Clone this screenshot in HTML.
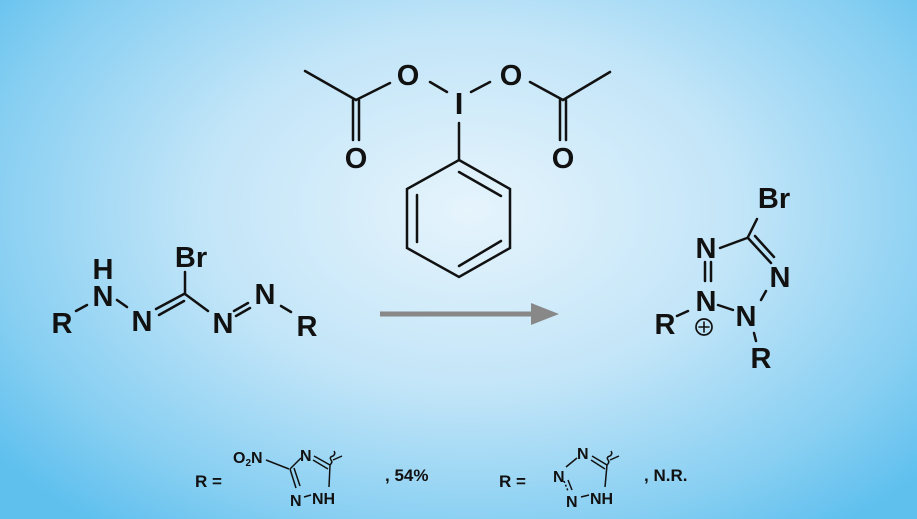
<!DOCTYPE html>
<html><head><style>
html,body{margin:0;padding:0;}
body{width:917px;height:519px;overflow:hidden;background:radial-gradient(ellipse 600px 400px at 470px 210px,#e6f4fc 0%,#c2e5f8 45%,#88cff2 80%,#5fc0ee 100%);}
svg{position:absolute;left:0;top:0}
text{font-family:"Liberation Sans",Arial,sans-serif;font-weight:bold;fill:#111}
</style></head><body>
<svg width="917" height="519" viewBox="0 0 917 519">
<g stroke="#111" stroke-width="2.5" fill="none" stroke-linecap="round">
<line x1="305" y1="71" x2="356" y2="100"/>
<line x1="356" y1="100" x2="390" y2="83"/>
<line x1="430" y1="82" x2="447" y2="92"/>
<line x1="471" y1="92" x2="490" y2="82"/>
<line x1="530" y1="82" x2="563" y2="100"/>
<line x1="563" y1="100" x2="610" y2="72"/>
<line x1="353" y1="100" x2="353" y2="140"/><line x1="359" y1="100" x2="359" y2="140"/>
<line x1="560" y1="100" x2="560" y2="140"/><line x1="566" y1="100" x2="566" y2="140"/>
<line x1="459" y1="123" x2="459" y2="160"/>
<polygon points="459,160 510,189 510,248 459,277 407,248 407,189"/>
<line x1="459" y1="172" x2="501" y2="196"/>
<line x1="501" y1="241" x2="459" y2="266"/>
<line x1="417" y1="195" x2="417" y2="242"/>
<line x1="76" y1="311" x2="87" y2="305"/>
<line x1="117" y1="300" x2="127" y2="307"/>
<line x1="156" y1="309" x2="184" y2="294"/><line x1="159" y1="315" x2="184" y2="301"/>
<line x1="185" y1="294" x2="185" y2="272"/>
<line x1="185" y1="294" x2="208" y2="311"/>
<line x1="234" y1="311" x2="248" y2="303"/><line x1="236" y1="316" x2="250" y2="308"/>
<line x1="281" y1="306" x2="291" y2="312"/>
<line x1="757" y1="219" x2="748" y2="237"/>
<line x1="720" y1="248" x2="747" y2="238"/>
<line x1="748" y1="238" x2="771" y2="263"/><line x1="755" y1="236" x2="774" y2="257"/>
<line x1="705" y1="262" x2="705" y2="281"/><line x1="711" y1="262" x2="711" y2="281"/>
<line x1="766" y1="291" x2="761" y2="300"/>
<line x1="718" y1="305" x2="733" y2="310"/>
<line x1="677" y1="316" x2="688" y2="311"/>
<line x1="754" y1="333" x2="756" y2="341"/>
<circle cx="704" cy="327" r="8" stroke-width="1.7"/>
<line x1="699" y1="327" x2="709" y2="327" stroke-width="1.6"/><line x1="704" y1="322" x2="704" y2="332" stroke-width="1.6"/>
</g>
<line x1="380" y1="314" x2="535" y2="314" stroke="#888" stroke-width="5"/>
<polygon points="531,303 559,314 531,325" fill="#888"/>
<g font-size="29" text-anchor="middle">
<text x="408" y="85">O</text>
<text x="459" y="114" font-size="31">I</text>
<text x="511" y="85">O</text>
<text x="356" y="168">O</text>
<text x="563" y="168">O</text>
<text x="62" y="333">R</text>
<text x="103" y="279">H</text>
<text x="103" y="306">N</text>
<text x="142" y="331">N</text>
<text x="191" y="267">Br</text>
<text x="223" y="333">N</text>
<text x="265" y="304">N</text>
<text x="307" y="336">R</text>
<text x="774" y="208">Br</text>
<text x="706" y="258">N</text>
<text x="780" y="287">N</text>
<text x="706" y="311">N</text>
<text x="746" y="326">N</text>
<text x="665" y="334">R</text>
<text x="761" y="368">R</text>
</g>
<g stroke="#111" stroke-width="1.5" fill="none">
<line x1="266" y1="460" x2="289" y2="469"/>
<line x1="290" y1="469" x2="301" y2="458"/>
<line x1="314" y1="456" x2="330" y2="465"/><line x1="313" y1="460" x2="328" y2="469"/>
<line x1="330" y1="465" x2="329" y2="487"/>
<line x1="290" y1="469" x2="296" y2="488"/><line x1="294" y1="468" x2="300" y2="486"/>
<line x1="304" y1="497" x2="311" y2="495"/>
<path d="M330,465 q3,-3 1,-5 q-2,-3 2,-4 q3,-2 1,-5"/><line x1="333" y1="460" x2="342" y2="456"/>
<line x1="566" y1="467" x2="577" y2="458"/>
<line x1="592" y1="456" x2="607" y2="465"/><line x1="591" y1="460" x2="605" y2="469"/>
<line x1="607" y1="465" x2="605" y2="487"/>
<line x1="564" y1="481" x2="568" y2="491" stroke-dasharray="2 2"/><line x1="568" y1="480" x2="572" y2="490" />
<line x1="581" y1="497" x2="589" y2="495"/>
<path d="M607,465 q3,-3 1,-5 q-2,-3 2,-4 q3,-2 1,-5"/><line x1="610" y1="460" x2="619" y2="456"/>
</g>
<g font-size="17">
<text x="195" y="487">R =</text>
<text x="233" y="463" font-size="16">O<tspan font-size="10" dy="3">2</tspan><tspan dy="-3">N</tspan></text>
<text x="300" y="461" font-size="16">N</text>
<text x="290" y="506" font-size="16">N</text>
<text x="312" y="504" font-size="16">NH</text>
<text x="385" y="481">, 54%</text>
<text x="499" y="487">R =</text>
<text x="577" y="459" font-size="16">N</text>
<text x="553" y="482" font-size="16">N</text>
<text x="566" y="507" font-size="16">N</text>
<text x="590" y="504" font-size="16">NH</text>
<text x="644" y="481">, N.R.</text>
</g>
</svg>
</body></html>
